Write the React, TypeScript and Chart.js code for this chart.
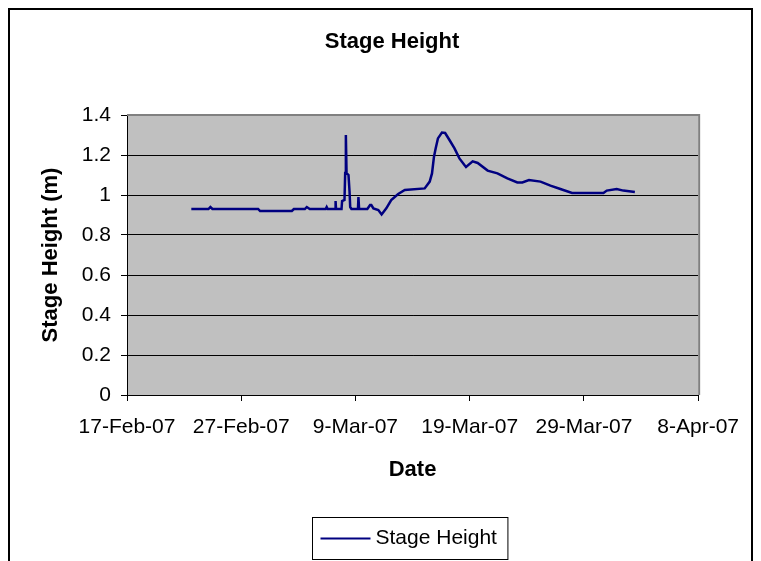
import { useEffect, useRef } from "react";
import { Chart, registerables } from "chart.js";

Chart.register(...registerables);

// ---------- data ----------
const START_DATE_UTC = Date.UTC(2007, 1, 17); // 17-Feb-07 = day 0 of the x axis
const MONTHS = ["Jan", "Feb", "Mar", "Apr", "May", "Jun", "Jul", "Aug", "Sep", "Oct", "Nov", "Dec"];

const chartTitle = "Stage Height";
const seriesLabel = "Stage Height";
const xAxisTitle = "Date";
const yAxisTitle = "Stage Height (m)";

// days since 17-Feb-07
const daysSinceStart = [
  5.63, 7.13, 7.3, 7.48, 11.48, 11.65, 14.43, 14.61, 15.57, 15.74, 16.0,
  17.39, 17.48, 17.57, 18.22, 18.26, 18.3, 18.78, 18.83, 19.04, 19.1, 19.16,
  19.22, 19.39, 19.48, 19.54, 19.65, 20.22, 20.26, 20.32, 21.04, 21.28, 21.39,
  21.57, 22.0, 22.29, 22.52, 22.7, 23.13, 23.74, 24.32, 26.06, 26.5, 26.7,
  26.87, 27.02, 27.22, 27.57, 27.85, 28.23, 28.67, 29.1, 29.54, 29.68, 30.26,
  30.7, 31.57, 32.43, 33.3, 34.17, 34.61, 35.19, 36.2, 37.07, 37.94, 38.96,
  41.71, 42.0, 42.87, 43.45, 44.46,
];

// stage height (m)
const stageHeight = [
  0.93, 0.93, 0.94, 0.93, 0.93, 0.92, 0.92, 0.93, 0.93, 0.94, 0.93,
  0.93, 0.94, 0.93, 0.93, 0.97, 0.93, 0.93, 0.97, 0.975, 1.11, 1.3,
  1.11, 1.1, 1.02, 0.94, 0.93, 0.93, 0.99, 0.93, 0.93, 0.95, 0.95,
  0.933, 0.925, 0.903, 0.92, 0.933, 0.975, 1.005, 1.025, 1.033, 1.067, 1.108,
  1.19, 1.233, 1.283, 1.312, 1.31, 1.275, 1.233, 1.183, 1.15, 1.14, 1.168,
  1.16, 1.122, 1.108, 1.083, 1.063, 1.063, 1.075, 1.067, 1.047, 1.03, 1.01,
  1.01, 1.022, 1.03, 1.022, 1.015,
];

const xTickDays = [0, 10, 20, 30, 40, 50];
const yTickValues = [0, 0.2, 0.4, 0.6, 0.8, 1, 1.2, 1.4];

// ---------- helpers ----------
const FONT = '"Liberation Sans", Arial, sans-serif';

function formatDay(day: number): string {
  const d = new Date(START_DATE_UTC + day * 86400000);
  const yy = String(d.getUTCFullYear() % 100).padStart(2, "0");
  return `${d.getUTCDate()}-${MONTHS[d.getUTCMonth()]}-${yy}`;
}

const excelLook = {
  id: "excelLook",
  beforeDraw(chart: any) {
    const { ctx, width, height, chartArea } = chart;
    ctx.save();
    ctx.fillStyle = "#ffffff";
    ctx.fillRect(0, 0, width, height);
    ctx.fillStyle = "#C0C0C0";
    ctx.fillRect(chartArea.left, chartArea.top, chartArea.right - chartArea.left, chartArea.bottom - chartArea.top);
    ctx.restore();
  },
  beforeDatasetsDraw(chart: any) {
    const { ctx, chartArea } = chart;
    ctx.save();
    ctx.strokeStyle = "#808080";
    ctx.lineWidth = 2;
    ctx.beginPath();
    ctx.moveTo(chartArea.left, chartArea.top);
    ctx.lineTo(chartArea.right + 1, chartArea.top);
    ctx.lineTo(chartArea.right + 1, chartArea.bottom);
    ctx.stroke();
    ctx.restore();
  },
  afterDraw(chart: any) {
    const { ctx, width, chartArea } = chart;
    ctx.save();
    // outer chart border
    ctx.strokeStyle = "#000000";
    ctx.lineWidth = 2;
    ctx.strokeRect(1, 1, width - 2, 700);

    // chart title
    ctx.fillStyle = "#000000";
    ctx.font = `bold 22px ${FONT}`;
    ctx.textAlign = "center";
    ctx.textBaseline = "middle";
    ctx.fillText(chartTitle, 384, 34);

    // legend with a box
    const ds = chart.data.datasets[0];
    ctx.font = `21px ${FONT}`;
    const textW = ctx.measureText(ds.label).width;
    const sample = 50;
    const boxW = 8 + sample + 5 + textW + 11;
    const boxH = 42;
    const cx = (chartArea.left + chartArea.right) / 2 - 3;
    const boxL = Math.round(cx - boxW / 2) + 0.5;
    const boxT = 509.5;
    ctx.lineWidth = 1;
    ctx.strokeStyle = "#000000";
    ctx.strokeRect(boxL, boxT, boxW, boxH);
    const midY = boxT + boxH / 2;
    ctx.strokeStyle = ds.borderColor;
    ctx.lineWidth = 2;
    ctx.beginPath();
    ctx.moveTo(boxL + 8, midY);
    ctx.lineTo(boxL + 8 + sample, midY);
    ctx.stroke();
    ctx.fillStyle = "#000000";
    ctx.textBaseline = "middle";
    ctx.textAlign = "left";
    ctx.fillText(ds.label, boxL + 8 + sample + 5, midY);
    ctx.restore();
  },
};

export default function App() {
  const canvasRef = useRef<HTMLCanvasElement | null>(null);

  useEffect(() => {
    if (!canvasRef.current) return;
    const points = daysSinceStart.map((d, i) => ({ x: d, y: stageHeight[i] }));
    const chart = new Chart(canvasRef.current, {
      type: "line",
      data: {
        datasets: [
          {
            label: seriesLabel,
            data: points,
            borderColor: "#000080",
            backgroundColor: "#000080",
            borderWidth: 2.5,
            pointRadius: 0,
            tension: 0,
            fill: false,
          },
        ],
      },
      options: {
        responsive: false,
        animation: false,
        devicePixelRatio: 1,
        layout: { padding: { left: 0, right: 51, top: 107, bottom: 77.8 } },
        plugins: {
          legend: { display: false },
          tooltip: { enabled: false },
          title: { display: false },
        },
        scales: {
          x: {
            type: "linear",
            min: xTickDays[0],
            max: xTickDays[xTickDays.length - 1],
            afterBuildTicks: (scale: any) => {
              scale.ticks = xTickDays.map((v) => ({ value: v }));
            },
            afterFit: (scale: any) => {
              scale.height = 88.2;
            },
            ticks: {
              autoSkip: false,
              maxRotation: 0,
              minRotation: 0,
              padding: 14,
              color: "#000000",
              font: { family: FONT, size: 21 },
              callback: (v: any) => formatDay(Number(v)),
            },
            grid: {
              drawOnChartArea: false,
              drawTicks: true,
              tickLength: 6,
              tickColor: "#000000",
              color: "#000000",
            },
            border: { display: true, color: "#000000", width: 1 },
            title: {
              display: true,
              text: xAxisTitle,
              color: "#000000",
              font: { family: FONT, size: 22, weight: "bold" },
              padding: 0,
            },
          },
          y: {
            type: "linear",
            min: yTickValues[0],
            max: yTickValues[yTickValues.length - 1],
            afterBuildTicks: (scale: any) => {
              scale.ticks = yTickValues.map((v) => ({ value: v }));
            },
            afterFit: (scale: any) => {
              scale.width = 119;
            },
            ticks: {
              padding: 10,
              color: "#000000",
              font: { family: FONT, size: 21 },
              callback: (v: any) => String(Number(Number(v).toFixed(1))),
            },
            grid: {
              color: "#000000",
              lineWidth: 1,
              drawTicks: true,
              tickLength: 6,
              tickColor: "#000000",
            },
            border: { display: true, color: "#000000", width: 1 },
            title: {
              display: true,
              text: yAxisTitle,
              color: "#000000",
              font: { family: FONT, size: 22, weight: "bold" },
              padding: { top: 29.8, bottom: 0 },
            },
          },
        },
      },
      plugins: [excelLook],
    } as any);
    return () => chart.destroy();
  }, []);

  return (
    <div style={{ width: 745, height: 553 }}>
      <canvas ref={canvasRef} width={745} height={553} style={{ display: "block", width: 745, height: 553 }} />
    </div>
  );
}
